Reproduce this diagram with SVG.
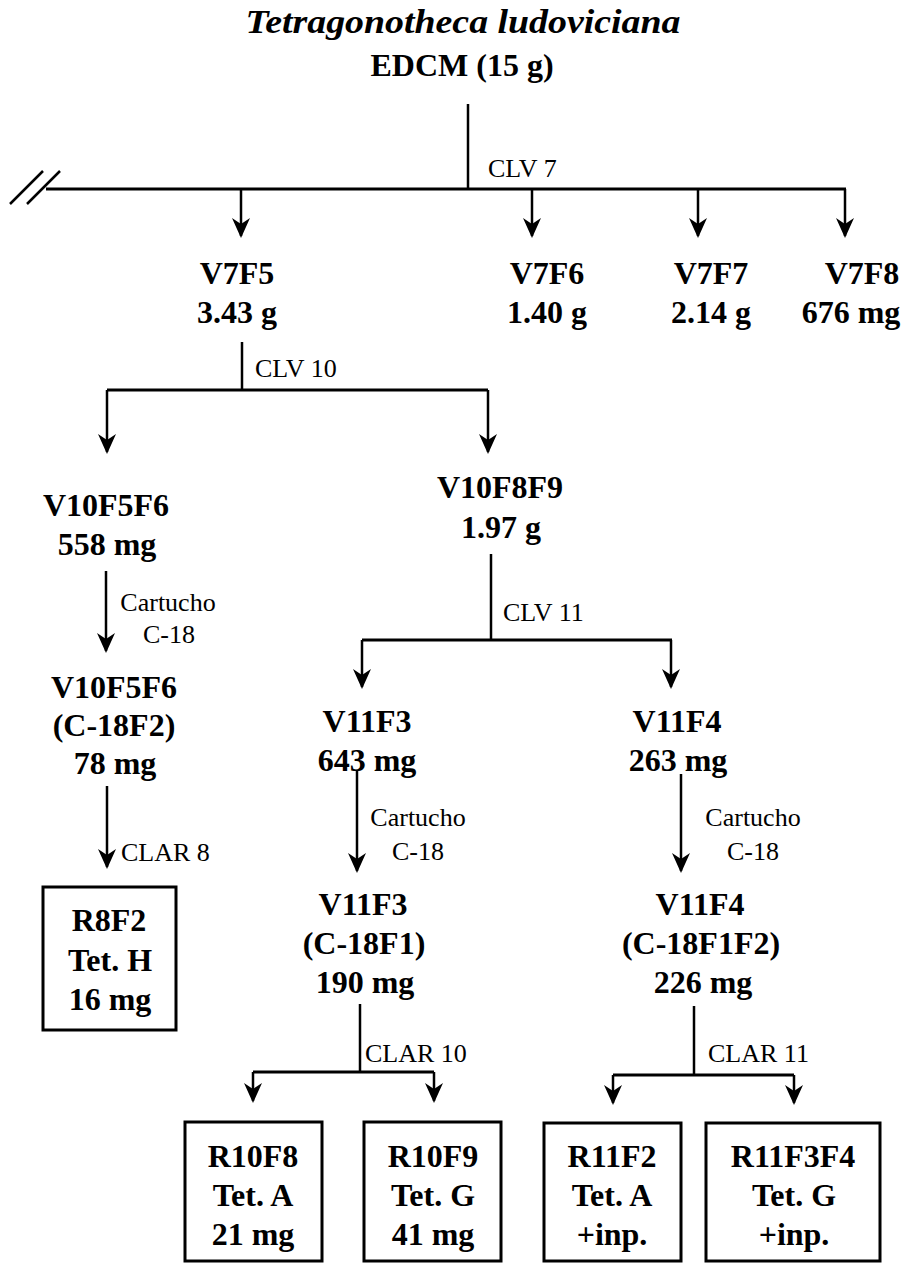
<svg xmlns="http://www.w3.org/2000/svg" width="906" height="1263" viewBox="0 0 906 1263">
<style>
  text { font-family: "Liberation Serif", "DejaVu Serif", "Times New Roman", serif; fill: #000; }
  .b { font-weight: bold; font-size: 32px; text-anchor: middle; }
  .t { font-weight: bold; font-style: italic; font-size: 34px; text-anchor: middle; }
  .r { font-size: 26px; }
  .rc { font-size: 26px; text-anchor: middle; }
  .ln { stroke: #000; stroke-width: 2.5; fill: none; }
  .hl { stroke: #000; stroke-width: 3; fill: none; }
  .ar { stroke: #000; stroke-width: 2.5; fill: none; marker-end: url(#arrow); }
  .box { stroke: #000; stroke-width: 3; fill: #fff; }
</style>
<defs>
  <marker id="arrow" viewBox="0 -10 20 20" refX="18" refY="0" markerWidth="20" markerHeight="20" markerUnits="userSpaceOnUse" orient="auto">
    <path d="M0,-9 L20,0 L0,9 L6,0 Z" fill="#000"/>
  </marker>
</defs>
<rect width="906" height="1263" fill="#fff"/>

<g id="connectors">
  <line class="ln" x1="468" y1="104" x2="468" y2="189"/>
  <line class="hl" x1="46" y1="189" x2="846" y2="189"/>
  <line class="ln" x1="10" y1="204" x2="43" y2="171"/>
  <line class="ln" x1="27" y1="204" x2="60" y2="171"/>
  <line class="ar" x1="241" y1="189" x2="241" y2="236"/>
  <line class="ar" x1="532" y1="189" x2="532" y2="236"/>
  <line class="ar" x1="698" y1="189" x2="698" y2="236"/>
  <line class="ar" x1="845" y1="189" x2="845" y2="236"/>
  <line class="ln" x1="242" y1="342" x2="242" y2="390"/>
  <line class="hl" x1="107" y1="390" x2="488" y2="390"/>
  <line class="ar" x1="107" y1="390" x2="107" y2="452"/>
  <line class="ar" x1="488" y1="390" x2="488" y2="452"/>
  <line class="ar" x1="106" y1="571" x2="106" y2="651"/>
  <line class="ln" x1="491" y1="554" x2="491" y2="640"/>
  <line class="hl" x1="362" y1="640" x2="672" y2="640"/>
  <line class="ar" x1="362" y1="640" x2="362" y2="687"/>
  <line class="ar" x1="671" y1="640" x2="671" y2="687"/>
  <line class="ar" x1="107" y1="786" x2="107" y2="867"/>
  <line class="ar" x1="357" y1="770" x2="357" y2="871"/>
  <line class="ar" x1="681" y1="774" x2="681" y2="871"/>
  <line class="ln" x1="360" y1="1004" x2="360" y2="1072"/>
  <line class="hl" x1="253" y1="1072" x2="434" y2="1072"/>
  <line class="ar" x1="253" y1="1072" x2="253" y2="1101"/>
  <line class="ar" x1="434" y1="1072" x2="434" y2="1101"/>
  <line class="ln" x1="694" y1="1006" x2="694" y2="1075"/>
  <line class="hl" x1="613" y1="1075" x2="794" y2="1075"/>
  <line class="ar" x1="613" y1="1075" x2="613" y2="1103"/>
  <line class="ar" x1="794" y1="1075" x2="794" y2="1103"/>
</g>

<g id="labels">
  <text class="r" x="488" y="177">CLV 7</text>
  <text class="r" x="255" y="377">CLV 10</text>
  <text class="rc" x="168" y="611">Cartucho</text>
  <text class="rc" x="169" y="643">C-18</text>
  <text class="r" x="503" y="621">CLV 11</text>
  <text class="r" x="121" y="861">CLAR 8</text>
  <text class="rc" x="418" y="826">Cartucho</text>
  <text class="rc" x="418" y="860">C-18</text>
  <text class="rc" x="753" y="826">Cartucho</text>
  <text class="rc" x="753" y="860">C-18</text>
  <text class="r" x="365" y="1062">CLAR 10</text>
  <text class="r" x="708" y="1062">CLAR 11</text>
</g>

<g id="root">
  <text class="t" x="463" y="33" textLength="435" lengthAdjust="spacingAndGlyphs">Tetragonotheca ludoviciana</text>
  <text class="b" x="462" y="76">EDCM (15 g)</text>
</g>

<g id="V7F5"><text class="b" x="237" y="284">V7F5</text><text class="b" x="237" y="323">3.43 g</text></g>
<g id="V7F6"><text class="b" x="547" y="284">V7F6</text><text class="b" x="547" y="323">1.40 g</text></g>
<g id="V7F7"><text class="b" x="711" y="284">V7F7</text><text class="b" x="711" y="323">2.14 g</text></g>
<g id="V7F8"><text class="b" x="862" y="284">V7F8</text><text class="b" x="851" y="323">676 mg</text></g>

<g id="V10F5F6"><text class="b" x="106" y="516">V10F5F6</text><text class="b" x="107" y="555">558 mg</text></g>
<g id="V10F8F9"><text class="b" x="500" y="498">V10F8F9</text><text class="b" x="501" y="538">1.97 g</text></g>

<g id="V10F5F6-C18F2"><text class="b" x="114" y="698">V10F5F6</text><text class="b" x="114" y="736">(C-18F2)</text><text class="b" x="115" y="774">78 mg</text></g>

<g id="V11F3"><text class="b" x="367" y="732">V11F3</text><text class="b" x="367" y="771">643 mg</text></g>
<g id="V11F4"><text class="b" x="677" y="732">V11F4</text><text class="b" x="678" y="771">263 mg</text></g>

<g id="V11F3-C18F1"><text class="b" x="363" y="915">V11F3</text><text class="b" x="364" y="954">(C-18F1)</text><text class="b" x="365" y="993">190 mg</text></g>
<g id="V11F4-C18F1F2"><text class="b" x="700" y="915">V11F4</text><text class="b" x="701" y="954">(C-18F1F2)</text><text class="b" x="703" y="993">226 mg</text></g>

<g id="R8F2">
  <rect class="box" x="43" y="887" width="133" height="143"/>
  <text class="b" x="109" y="931">R8F2</text><text class="b" x="110" y="971">Tet. H</text><text class="b" x="110" y="1010">16 mg</text>
</g>
<g id="R10F8">
  <rect class="box" x="185" y="1122" width="137" height="139"/>
  <text class="b" x="253" y="1167">R10F8</text><text class="b" x="253" y="1206">Tet. A</text><text class="b" x="253" y="1245">21 mg</text>
</g>
<g id="R10F9">
  <rect class="box" x="364" y="1122" width="137" height="139"/>
  <text class="b" x="433" y="1167">R10F9</text><text class="b" x="433" y="1206">Tet. G</text><text class="b" x="433" y="1245">41 mg</text>
</g>
<g id="R11F2">
  <rect class="box" x="544" y="1123" width="137" height="138"/>
  <text class="b" x="612" y="1167">R11F2</text><text class="b" x="612" y="1206">Tet. A</text><text class="b" x="612" y="1245">+inp.</text>
</g>
<g id="R11F3F4">
  <rect class="box" x="706" y="1123" width="174" height="138"/>
  <text class="b" x="793" y="1167">R11F3F4</text><text class="b" x="794" y="1206">Tet. G</text><text class="b" x="794" y="1245">+inp.</text>
</g>
</svg>
